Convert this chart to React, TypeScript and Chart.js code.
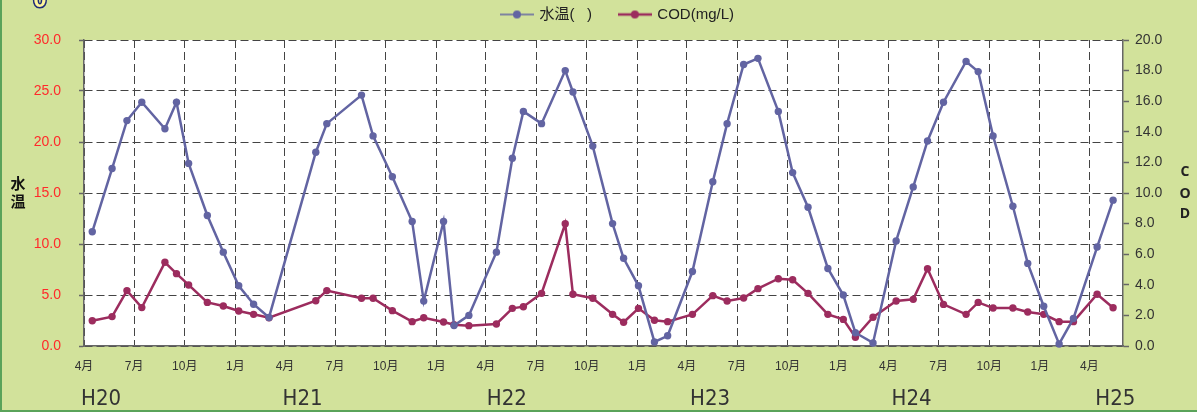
import React, { useEffect, useRef } from 'react';
import { Chart, registerables } from 'chart.js';

Chart.register(...registerables);

// ---- data ----
const sampleDates = [
  '2008-04-16', '2008-05-22', '2008-06-18', '2008-07-15', '2008-08-26', '2008-09-16',
  '2008-10-08', '2008-11-11', '2008-12-10', '2009-01-07', '2009-02-03', '2009-03-03',
  '2009-05-27', '2009-06-16', '2009-08-18', '2009-09-08', '2009-10-13', '2009-11-18',
  '2009-12-09', '2010-01-14', '2010-02-02', '2010-03-01', '2010-04-20', '2010-05-19',
  '2010-06-08', '2010-07-11', '2010-08-23', '2010-09-06', '2010-10-12', '2010-11-17',
  '2010-12-07', '2011-01-03', '2011-02-01', '2011-02-25', '2011-04-11', '2011-05-18',
  '2011-06-13', '2011-07-13', '2011-08-08', '2011-09-14', '2011-10-10', '2011-11-07',
  '2011-12-13', '2012-01-10', '2012-02-01', '2012-03-04', '2012-04-15', '2012-05-16',
  '2012-06-11', '2012-07-10', '2012-08-20', '2012-09-11', '2012-10-08', '2012-11-13',
  '2012-12-10', '2013-01-08', '2013-02-05', '2013-03-03', '2013-04-15', '2013-05-14',
];

const waterTemp = [
  11.2, 17.4, 22.1, 23.9, 21.3, 23.9,
  17.9, 12.8, 9.2, 5.9, 4.1, 2.8,
  19.0, 21.8, 24.6, 20.6, 16.6, 12.2,
  4.4, 12.2, 2.0, 3.0, 9.2, 18.4,
  23.0, 21.8, 27.0, 24.9, 19.6, 12.0,
  8.6, 5.9, 0.4, 1.0, 7.3, 16.1,
  21.8, 27.6, 28.2, 23.0, 17.0, 13.6,
  7.6, 5.0, 1.3, 0.3, 10.3, 15.6,
  20.1, 23.9, 27.9, 26.9, 20.6, 13.7,
  8.1, 3.9, 0.2, 2.7, 9.7, 14.3,
];

const codValues = [
  1.65, 1.92, 3.62, 2.51, 5.47, 4.73,
  3.99, 2.85, 2.61, 2.29, 2.07, 1.85,
  2.96, 3.62, 3.12, 3.12, 2.31, 1.59,
  1.85, 1.57, 1.39, 1.33, 1.44, 2.46,
  2.57, 3.44, 7.99, 3.38, 3.12, 2.07,
  1.55, 2.46, 1.68, 1.59, 2.07, 3.29,
  2.94, 3.14, 3.75, 4.4, 4.33, 3.44,
  2.07, 1.74, 0.57, 1.88, 2.94, 3.05,
  5.05, 2.72, 2.07, 2.85, 2.48, 2.48,
  2.22, 2.07, 1.59, 1.59, 3.38, 2.5,
];

const seriesNames = ['水温(   )', 'COD(mg/L)'];
const axisStart = '2008-04-01';
const axisEnd = '2013-06-01';
const quarterTickDates = [
  '2008-04-01', '2008-07-01', '2008-10-01', '2009-01-01',
  '2009-04-01', '2009-07-01', '2009-10-01', '2010-01-01',
  '2010-04-01', '2010-07-01', '2010-10-01', '2011-01-01',
  '2011-04-01', '2011-07-01', '2011-10-01', '2012-01-01',
  '2012-04-01', '2012-07-01', '2012-10-01', '2013-01-01',
  '2013-04-01',
];
const yearLabels = ['H20', 'H21', 'H22', 'H23', 'H24', 'H25'];
const yearLabelDates = ['2008-05-02', '2009-05-03', '2010-05-09', '2011-05-13', '2012-05-13', '2013-05-18'];

// ---- styles ----
const BG = '#d2e29b';
const TEMP_COLOR = '#6264a2';
const COD_COLOR = '#9c2c5e';
const GRID_COLOR = '#444';
const AXIS_COLOR = '#666';
const BASE_FONT = "'Liberation Sans', Arial, 'Noto Sans CJK JP', sans-serif";
const NARROW_FONT = "'Liberation Sans Narrow', 'Arial Narrow', 'DejaVu Sans Condensed', sans-serif";

function dayOf(s: string): number {
  const [y, m, d] = s.split('-').map(Number);
  const [y0, m0, d0] = axisStart.split('-').map(Number);
  return Math.round((Date.UTC(y, m - 1, d) - Date.UTC(y0, m0 - 1, d0)) / 86400000);
}

function monthLabel(s: string): string {
  return `${Number(s.split('-')[1])}月`;
}

function makeLegendIcon(color: string, lw: number): HTMLCanvasElement {
  const c = document.createElement('canvas');
  c.width = 34;
  c.height = 10;
  const g = c.getContext('2d')!;
  g.strokeStyle = color;
  g.lineWidth = lw;
  g.beginPath();
  g.moveTo(0, 5);
  g.lineTo(34, 5);
  g.stroke();
  g.fillStyle = color;
  g.beginPath();
  g.arc(17, 5, 4, 0, Math.PI * 2);
  g.fill();
  return c;
}

const decorPlugin = {
  id: 'decor',
  beforeDraw(chart: any) {
    const { ctx, width, height, chartArea } = chart;
    ctx.save();
    ctx.fillStyle = BG;
    ctx.fillRect(0, 0, width, height);
    ctx.fillStyle = '#ffffff';
    ctx.fillRect(chartArea.left, chartArea.top, chartArea.right - chartArea.left, chartArea.bottom - chartArea.top);
    ctx.restore();
  },
  afterDraw(chart: any) {
    const { ctx, width, height } = chart;
    ctx.save();
    // stacked axis titles
    ctx.fillStyle = '#111';
    ctx.textAlign = 'center';
    ctx.textBaseline = 'middle';
    ctx.font = "bold 15px 'Noto Sans CJK JP', sans-serif";
    ctx.fillText('水', 18, 183);
    ctx.fillText('温', 18, 201);
    ctx.fillStyle = '#222';
    ctx.font = "bold 14px 'Open Sans', 'Liberation Sans', sans-serif";
    ctx.fillText('C', 1185, 172);
    ctx.fillText('O', 1185, 194);
    ctx.fillText('D', 1185, 214);
    // clipped title glyph at the top-left
    ctx.font = "bold 24px 'Liberation Sans', sans-serif";
    ctx.textBaseline = 'alphabetic';
    ctx.lineWidth = 3;
    ctx.strokeStyle = '#1e2a78';
    ctx.strokeText('0', 40, 7);
    ctx.fillStyle = '#fff59a';
    ctx.fillText('0', 40, 7);
    // frame
    ctx.fillStyle = '#5aa35a';
    ctx.fillRect(0, 0, 2, height);
    ctx.fillRect(0, height - 2, width, 2);
    ctx.restore();
  },
};

export default function App() {
  const ref = useRef<HTMLCanvasElement>(null);

  useEffect(() => {
    Chart.defaults.font.family = BASE_FONT;
    const minDay = dayOf(axisStart);
    const maxDay = dayOf(axisEnd);
    const xs = sampleDates.map(dayOf);
    const tempIcon = makeLegendIcon(TEMP_COLOR, 1.5);
    const codIcon = makeLegendIcon(COD_COLOR, 2.5);

    const chart = new Chart(ref.current!, {
      type: 'line',
      data: {
        datasets: [
          {
            label: seriesNames[0],
            data: xs.map((x, i) => ({ x, y: waterTemp[i] })),
            borderColor: TEMP_COLOR,
            backgroundColor: TEMP_COLOR,
            pointBackgroundColor: TEMP_COLOR,
            pointBorderColor: TEMP_COLOR,
            borderWidth: 2.5,
            pointRadius: 3.7,
            pointBorderWidth: 0,
            tension: 0,
            xAxisID: 'x',
            yAxisID: 'y',
            clip: false,
          },
          {
            label: seriesNames[1],
            data: xs.map((x, i) => ({ x, y: codValues[i] })),
            borderColor: COD_COLOR,
            backgroundColor: COD_COLOR,
            pointBackgroundColor: COD_COLOR,
            pointBorderColor: COD_COLOR,
            borderWidth: 2.5,
            pointRadius: 3.7,
            pointBorderWidth: 0,
            tension: 0,
            xAxisID: 'x',
            yAxisID: 'y1',
            clip: false,
          },
        ],
      },
      options: {
        responsive: false,
        animation: false,
        layout: { padding: { left: 30, right: -9, top: 0, bottom: 0 } },
        plugins: {
          tooltip: { enabled: false },
          legend: {
            position: 'top',
            labels: {
              usePointStyle: true,
              pointStyleWidth: 30,
              padding: 7,
              color: '#222',
              font: { size: 15, family: BASE_FONT },
              generateLabels: () => [
                { text: seriesNames[0] + '     ', pointStyle: tempIcon, fillStyle: TEMP_COLOR, strokeStyle: TEMP_COLOR, lineWidth: 0, hidden: false, datasetIndex: 0, fontColor: '#222' },
                { text: seriesNames[1], pointStyle: codIcon, fillStyle: COD_COLOR, strokeStyle: COD_COLOR, lineWidth: 0, hidden: false, datasetIndex: 1, fontColor: '#222' },
              ],
            },
          },
        },
        scales: {
          xTop: {
            type: 'linear',
            position: 'top',
            grid: { display: false, drawTicks: false },
            border: { display: false },
            ticks: { display: false },
            afterFit: (s: any) => { s.height = 8; },
          },
          x: {
            type: 'linear',
            position: 'bottom',
            min: minDay,
            max: maxDay,
            afterBuildTicks: (s: any) => { s.ticks = quarterTickDates.map((d) => ({ value: dayOf(d) })); },
            ticks: {
              autoSkip: false,
              maxRotation: 0,
              minRotation: 0,
              padding: 13,
              color: '#333',
              font: { size: 12 },
              callback: (_v: any, i: number) => monthLabel(quarterTickDates[i]),
            },
            grid: { color: GRID_COLOR, lineWidth: 1, drawTicks: false },
            border: { display: true, color: AXIS_COLOR, width: 1.5, dash: [8, 4] },
            afterFit: (s: any) => { s.height = 30; },
          },
          x2: {
            type: 'linear',
            position: 'bottom',
            min: minDay,
            max: maxDay,
            afterBuildTicks: (s: any) => { s.ticks = yearLabelDates.map((d) => ({ value: dayOf(d) })); },
            ticks: {
              autoSkip: false,
              maxRotation: 0,
              minRotation: 0,
              padding: 10,
              color: '#333',
              font: { size: 22, family: NARROW_FONT },
              callback: (_v: any, i: number) => yearLabels[i],
            },
            grid: { display: false, drawTicks: false },
            border: { display: false },
            afterFit: (s: any) => { s.height = 36; },
          },
          y: {
            type: 'linear',
            position: 'left',
            min: 0,
            max: 30,
            ticks: {
              stepSize: 5,
              color: '#ff2a2a',
              padding: 18,
              font: { size: 14 },
              callback: (v: any) => Number(v).toFixed(1),
            },
            grid: { color: GRID_COLOR, lineWidth: 1, drawTicks: true, tickLength: 5, tickColor: AXIS_COLOR, tickWidth: 1.5 },
            border: { display: true, color: AXIS_COLOR, width: 1.5, dash: [8, 4] },
            afterFit: (s: any) => { s.width = 54; },
          },
          y1: {
            type: 'linear',
            position: 'right',
            min: 0,
            max: 20,
            ticks: {
              stepSize: 2,
              color: '#333',
              padding: 6,
              font: { size: 14 },
              callback: (v: any) => Number(v).toFixed(1),
            },
            grid: { drawOnChartArea: false, drawTicks: true, tickLength: 6, color: AXIS_COLOR, tickWidth: 1.5 },
            border: { display: true, color: AXIS_COLOR, width: 1.5 },
            afterFit: (s: any) => { s.width = 83; },
          },
        },
      } as any,
      plugins: [decorPlugin],
    } as any);

    return () => chart.destroy();
  }, []);

  return (
    <div style={{ position: 'fixed', left: 0, top: 0, width: 1197, height: 412 }}>
      <canvas ref={ref} width={1197} height={412} style={{ display: 'block' }} />
    </div>
  );
}
